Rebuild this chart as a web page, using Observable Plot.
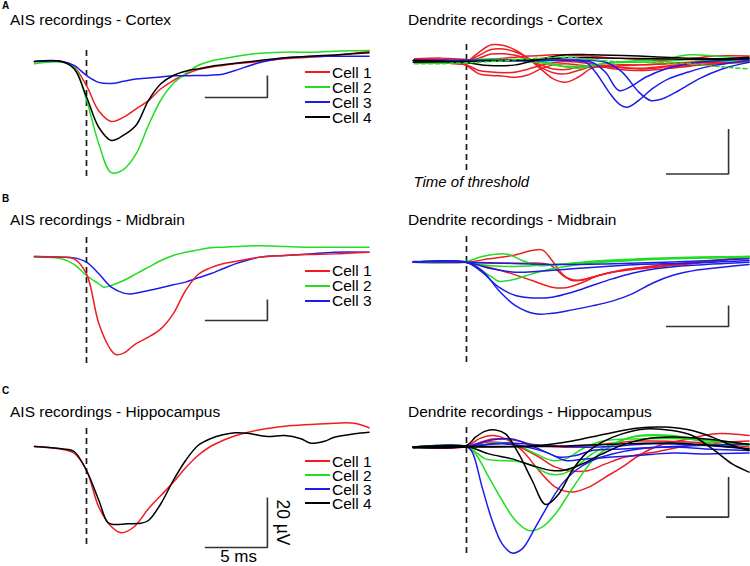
<!DOCTYPE html>
<html><head><meta charset="utf-8">
<script src="https://cdn.jsdelivr.net/npm/d3@7"></script>
<script src="https://cdn.jsdelivr.net/npm/@observablehq/plot@0.6"></script>
<style>
body{margin:0;background:#fff;}
#fig{position:relative;width:750px;height:566px;overflow:hidden;font-family:"Liberation Sans",Arial,sans-serif;color:#000;}
#fig svg{position:absolute;}
.lbl{position:absolute;white-space:nowrap;font-size:15.5px;line-height:15.5px;}
.let{position:absolute;font-weight:bold;font-size:10px;line-height:10px;}
.leg{position:absolute;display:flex;align-items:center;white-space:nowrap;font-size:15.5px;line-height:13px;height:13px;}
.leg span.sw{display:inline-block;width:25px;height:2px;margin-right:2px;}
</style></head>
<body><div id="fig"></div>
<script>
// ---------- shared ----------
const cellNames = ["Cell 1", "Cell 2", "Cell 3", "Cell 4"];
const traceColors = {red: "#ee1d23", green: "#22dd22", blue: "#1c1ce8", black: "#000000"};
const tGrid = [-4.2,-2,-1,0,1,2,3,4,5,6,7,8,9,10,11,12,14,16,18,20,22.8]; // ms

// ---------- A: AIS, cortex (µV on tGrid) ----------
const aAisCell1 = [0,0,-5,-22,-45,-54.5,-50.6,-43,-35.5,-24.8,-17.3,-11.8,-7.3,-5.2,-3.6,-2.1,0,2.4,3.9,5.5,9];
const aAisCell2 = [-2,-0.6,-5,-35,-75,-101,-98,-84,-58,-35,-20,-11,-3.6,0.3,2.4,4.5,7.6,8.5,8.5,9.4,10];
const aAisCell3 = [0,0,-3.6,-12.7,-19,-20,-18,-16,-15,-14,-13,-13,-12.7,-12.4,-11.5,-8.2,-0.9,3.3,4.5,4.8,4.8];
const aAisCell4 = [0,0,-6.7,-32,-60,-71.8,-67,-58,-35.5,-20.3,-12.7,-8.8,-6.7,-4.5,-3,-1.5,0.9,3.3,4.8,6,7.9];

// ---------- A: dendrite, cortex ----------
const aDendRed1 = [0.4,0.4,0,0,4.1,7.4,7.1,4.9,1.2,-3.3,-7.7,-9.2,-7.0,-3.3,-1.8,-1.5,-1.5,-1.0,-0.6,-0.3,0];
const aDendRed2 = [-0.3,-0.3,-0.3,0,2.7,5.3,5.6,4.1,1.5,-2.5,-5.0,-5.5,-4.0,-2.5,-2.1,-2.5,-3.3,-2.5,-1.8,-1.0,-0.3];
const aDendRed3 = [0.9,0.9,0.4,0,1.5,3.3,3.4,2.7,0.9,-1.5,-3.3,-3.6,-2.5,-1.8,-2.5,-3.3,-4.0,-3.3,-2.1,-1.0,0];
const aDendRed4 = [0,-0.3,-0.6,-1.8,-5.5,-6.2,-6.5,-7.0,-5.9,-3.3,-1.5,-1.0,-1.5,-2.1,-2.5,-2.1,-1.5,-1.0,-0.3,0.4,1.2];
const aDendRed5 = [-0.6,-0.6,-1.0,-1.5,-4.0,-4.7,-5.0,-4.7,-3.3,-1.8,-0.6,0,-0.3,-1.0,-1.8,-2.5,-3.0,-2.1,-1.0,-0.3,0.4];
const aDendRed6 = [1.2,1.5,1.2,0.9,0.4,0.9,1.5,1.9,2.4,2.7,3.0,3.0,2.7,2.4,1.9,1.5,0.9,0.4,1.2,2.4,2.4];
const aDendGreen1 = [-0.3,-0.3,0,0.4,0.9,1.2,0.9,0.4,0,-0.6,-1.5,-2.1,-2.1,-1.8,-1.0,-0.3,0.4,1.2,3.0,2.4,0.9];
const aDendGreen2 = [-0.6,-0.6,-0.6,-0.3,0,0.3,0.6,0.9,0.6,0,-1.0,-2.5,-3.0,-2.1,-1.0,-0.6,-0.3,0,0.9,0.4,-0.3];
const aDendGreen3 = [-1.0,-1.0,-0.7,-0.6,-0.3,0,0.3,0.9,1.2,1.5,1.8,1.9,1.5,0.9,0.4,0,-0.3,-0.6,-1.0,-2.1,-3.3];
const aDendBlue1 = [[-4.3,0.4],[0,0.6],[4,0.4],[8.5,0.4],[9.6,-0.3],[10.4,-4.7],[11.5,-13.6],[12.3,-18.8],[13.0,-20.3],[13.9,-17.3],[15.0,-12.1],[16.3,-7.7],[17.9,-4.7],[19.3,-2.5],[20.9,-1.0],[22.8,0.4]];
const aDendBlue2 = [[-4.3,0.4],[0,0.4],[5,0.4],[10.1,-0.3],[11.2,-4.7],[12.3,-12.9],[13.4,-10.7],[14.45,-7],[16.06,-3.3],[17.94,-1],[20.6,0.4],[22.8,1.2]];
const aDendBlue3 = [[-4.3,0.4],[0,0.2],[6,0.4],[11.22,-0.3],[12.56,-4.7],[13.91,-13.6],[14.85,-17.3],[15.79,-16.6],[17.14,-12.9],[18.75,-7.7],[20.63,-3.3],[22.8,-0.3]];
const aDendBlack1 = [[-4.3,0.4],[0,-0.6],[1.8,-1.8],[3.95,-1.5],[5.84,0.9],[7.99,3.0],[10.14,3.0],[13.9,2.4],[17.9,1.5],[20.6,1.2],[22.8,1.9]];
const aDendBlack2 = [[-4.3,-0.3],[0,0],[3.15,0.4],[5.84,0.9],[8.5,1.8],[11.2,1.5],[15.25,1.2],[19.3,0.9],[22.8,1.2]];

// ---------- B: AIS, midbrain ----------
const bAisCell1 = [[-4.2,0],[-2,-0.6],[-1,-2.2],[0,-16.5],[1,-64],[2,-89.5],[2.35,-93.3],[3,-92],[4,-83],[5,-76.8],[6,-68.9],[7,-54.6],[8,-32.4],[9,-17.1],[10,-10.8],[11,-7],[12,-4.8],[14,-0.6],[16,1],[18,1.9],[20,2.5],[22.8,4.1]];
const bAisCell2 = [[-4.2,-0.6],[-2,-2.2],[-1,-7.6],[0,-18.1],[1,-26],[1.4,-29.2],[2,-27.6],[3,-22.9],[4,-16.5],[5,-10.2],[6,-3.8],[7,1],[8,4.1],[9,6.3],[10,8.3],[11,8.9],[12,9.5],[14,10.2],[16,9.5],[18,8.9],[20,8.9],[22.8,8.9]];
const bAisCell3 = [[-4.2,0],[-2,-0.6],[-1,-1.3],[0,-5.4],[1,-16.5],[2,-29.2],[3,-34.9],[3.55,-35.6],[5,-32.4],[6,-29.8],[7,-27],[8,-24.4],[9,-20.3],[10,-16.5],[11,-11.7],[12,-7],[14,-0.6],[16,1],[18,2.5],[20,4.1],[22.8,4.1]];

// ---------- B: dendrite, midbrain ----------
const bDendBlue1 = [[-4.3,0],[0,0],[1.26,-7.9],[2.61,-27],[3.95,-41.3],[5.57,-49.2],[6.91,-48.6],[8.53,-45.4],[10.14,-41.6],[11.76,-37.1],[13.37,-30.2],[15,-20],[16.6,-12.7],[18.75,-7.3],[20.63,-4.8],[22.8,-2.2]];
const bDendBlue2 = [[-4.3,0],[0,-0.3],[1.26,-9.5],[2.61,-23.8],[3.95,-31.7],[5.3,-34],[6.91,-33.3],[8.53,-28.6],[10.14,-22.2],[11.76,-15.9],[13.37,-10.5],[15.25,-6.3],[17.94,-3.2],[22.8,0]];
const bDendBlue3 = [[-4.3,0],[0,-0.3],[2.07,-6.3],[3.95,-9.5],[5.84,-8.6],[8.53,-6.3],[11.22,-4.1],[13.91,-2.2],[17.94,-1],[22.8,1.6]];
const bDendBlue4 = [[-4.3,0.6],[0,0],[3.15,-1],[7.18,-2.2],[11.22,-1.6],[16.6,0.3],[22.8,3.2]];
const bDendRed1 = [[-4.3,0],[0,0],[1.8,3.2],[3.69,6.3],[5.3,11.1],[6.11,11.7],[6.91,1.6],[7.72,-11.1],[8.53,-17.5],[9.6,-15.9],[11.22,-11.1],[13.37,-6.3],[16.06,-2.2],[19.29,1],[22.8,4.8]];
const bDendRed2 = [[-4.3,0],[0,0],[1.8,-4.8],[3.69,-11.1],[5.3,-17.5],[6.91,-23.8],[7.99,-24.4],[9.07,-20.6],[10.68,-12.7],[12.56,-7.3],[15.25,-4.1],[19.29,0],[22.8,5.4]];
const bDendRed3 = [[-4.3,0],[0,0],[2.07,-1],[4.49,-1],[6.65,-2.2],[7.99,-14.3],[9.07,-17.5],[10.14,-14.3],[11.76,-9.5],[13.91,-6.3],[16.6,-3.2],[22.8,4.8]];
const bDendGreen1 = [[-4.3,0],[0,1],[1.26,5.4],[2.61,7.9],[3.42,7.3],[4.49,1.6],[5.84,-3.2],[7.45,-2.2],[10.14,1],[13.91,3.2],[17.94,4.8],[22.8,5.4]];
const bDendGreen2 = [[-4.3,0],[0,0],[1.0,-6.3],[2.07,-14.3],[2.61,-18.1],[3.69,-16.8],[5.3,-11.1],[6.91,-6.3],[9.07,-2.2],[12.56,1],[16.6,3.2],[22.8,4.8]];
const bDendGreen3 = [[-4.3,0],[0,0],[1.8,-3.2],[3.95,-4.1],[7.18,-2.2],[11.22,1],[15.25,3.2],[22.8,5.4]];

// ---------- C: AIS, hippocampus ----------
const cAisCell1 = [[-4.2,0],[-2,-1.1],[-1,-2.7],[0,-9.6],[1,-24.3],[2,-32],[2.8,-34.5],[3.8,-32.3],[5,-24.9],[6,-19.6],[7,-14.3],[8,-8.5],[9,-3.6],[10,0],[11,2.4],[12,4.3],[14,6.7],[16,8.1],[18,8.8],[20,9.3],[21.6,9.3],[22.8,7.5]];
const cAisCell4 = [[-4.2,0],[-2,-0.9],[-1,-2],[0,-9.6],[1,-21.6],[1.7,-30.3],[2.2,-31.2],[3.3,-30.9],[4.4,-30.7],[5,-29.6],[6,-22.9],[7,-13.6],[8,-5.6],[9,0.4],[10,3.1],[11,4.7],[12,5.5],[13,5.3],[14.6,4],[16,4.4],[17.3,3.1],[18.1,1.3],[19.2,2.1],[20,3.7],[21.6,5.1],[22.8,5.7]];

// ---------- C: dendrite, hippocampus ----------
const cDendBlue1 = [[-4.3,-0.3],[0,0],[0.46,-2.8],[1.26,-20.3],[2.07,-37],[2.88,-48.7],[3.69,-53.3],[4.49,-51.2],[5.57,-40.3],[6.65,-28.7],[7.72,-18.7],[8.8,-12],[10.14,-7],[11.76,-3.7],[13.91,-1.2],[16.6,-0.3],[19.29,-1.2],[22.8,-2]];
const cDendBlue2 = [[-4.3,-0.3],[0,0],[1.8,3],[3.69,3.8],[5.84,-1.2],[7.45,-5.3],[8.8,-4.5],[10.14,-2],[12.56,-1.2],[16.6,0],[22.8,1.3]];
const cDendBlue3 = [[-4.3,-0.3],[0,0],[3.15,1.3],[6.38,-2.8],[7.99,-7],[9.6,-6.2],[11.76,-5.3],[13.91,-4.5],[16.6,-3.3],[19.29,-3.7],[22.8,-3.3]];
const cDendBlue4 = [[-4.3,-0.3],[0,0],[3.15,1.7],[6.38,0.5],[9.07,-0.3],[11.76,0],[14.45,1.3],[17.94,1],[22.8,-1.2]];
const cDendGreen1 = [[-4.3,-0.3],[0,0],[0.73,-3.7],[1.8,-15.3],[2.88,-27],[3.95,-37],[5.03,-42],[6.11,-40.3],[7.18,-33.7],[8.26,-23.7],[9.34,-13.7],[10.41,-5.3],[11.76,0.5],[13.37,4.7],[15.25,5.5],[17.94,3.8],[20.63,0.5],[22.8,-1.2]];
const cDendGreen2 = [[-4.3,-0.3],[0,0],[0.73,-2.8],[1.53,-6.2],[2.61,-7],[3.95,-7.3],[5.3,-9.5],[6.65,-13.7],[7.72,-13.7],[8.8,-10.3],[10.14,-3.7],[11.76,1.3],[13.91,5.5],[16.6,5.5],[19.29,3],[22.8,1.3]];
const cDendGreen3 = [[-4.3,-0.3],[0,0],[1.8,1.3],[3.69,1.7],[5.3,-2.8],[6.91,-7],[7.99,-6.2],[9.6,-0.3],[11.22,3],[13.91,3.8],[17.94,3.8],[22.8,0.5]];
const cDendRed1 = [[-4.3,-0.3],[0,0],[1.0,3.8],[2.07,5.5],[3.15,3.8],[4.49,-2],[5.84,-12],[7.18,-20.3],[8.53,-22.8],[9.87,-20.3],[11.22,-15.3],[12.56,-10.3],[13.91,-4.5],[15.52,0.5],[17.94,3.8],[19.83,6.3],[21.44,6.3],[22.8,5.5]];
const cDendRed2 = [[-4.3,-0.3],[0,0],[1.8,2.2],[3.95,0.5],[5.84,-5.3],[7.18,-10.3],[8.53,-12.3],[9.87,-12],[11.22,-8.7],[12.83,-5.3],[15.25,-2.8],[17.94,0.5],[22.8,2.7]];
const cDendRed3 = [[-4.3,-0.3],[0,0],[2.07,3.8],[3.95,3],[5.84,0.5],[8.53,-0.3],[11.22,1.3],[13.91,2.7],[17.94,2.2],[22.8,-0.3]];
const cDendBlack1 = [[-4.3,-0.3],[0,0.5],[0.73,4.7],[1.53,7.7],[2.34,8.3],[3.15,6.3],[4.22,-3.7],[5.3,-17],[6.38,-29],[7.45,-23.7],[8.53,-12],[9.6,-3.7],[10.95,2.2],[12.56,6.3],[14.45,8.8],[16.6,8],[18.21,5.5],[19.29,1.3],[20.37,-3.7],[21.44,-8.7],[22.8,-12.8]];
const cDendBlack2 = [[-4.3,-0.3],[0,0],[1.8,-3.7],[3.69,-6.2],[5.3,-9.5],[6.91,-12],[7.99,-11.7],[9.34,-8.7],[10.95,-3.7],[12.83,1.3],[14.45,3.8],[16.6,4.7],[19.29,3.8],[22.8,1]];
const cDendBlack3 = [[-4.3,-0.3],[0,0],[3.15,0],[5.84,0.5],[8.53,2.7],[11.22,6.3],[13.91,9.3],[16.06,9.7],[18.21,8],[19.83,4.7],[21.44,0.5],[22.8,-2]];
const cDendBlack4 = [[-4.3,-0.7],[0,-0.3],[5.84,0],[11.22,1],[16.6,1.7],[22.8,-1.2]];

// ---------- panel assembly ----------
const onGrid = vals => vals.map((v, i) => [tGrid[i], v]);
const panels = [
  {col:0, top:0, h:185, base:61, f:1.1, dash:[11.8,-104.5], bar:[9.55,14.6,-32.7,-12.7],
   letter:"A", letterTop:0.6, title:"AIS recordings - Cortex", titleY:20, legendY:72, legendStep:15, legend:["red","green","blue","black"],
   traces:[{c:"red",p:onGrid(aAisCell1)},{c:"green",p:onGrid(aAisCell2)},{c:"blue",p:onGrid(aAisCell3)},{c:"black",p:onGrid(aAisCell4)}]},
  {col:1, top:0, h:185, base:61, f:2.25, dash:[8,-48.4], bar:[16.1,21.15,-50,-30],
   title:"Dendrite recordings - Cortex", titleY:20, threshold:true,
   traces:[{c:"red",p:onGrid(aDendRed1)},{c:"red",p:onGrid(aDendRed2)},{c:"red",p:onGrid(aDendRed3)},{c:"red",p:onGrid(aDendRed4)},{c:"red",p:onGrid(aDendRed5)},{c:"red",p:onGrid(aDendRed6)},
           {c:"green",p:onGrid(aDendGreen1)},{c:"green",p:onGrid(aDendGreen2)},{c:"green",p:onGrid(aDendGreen3),dashed:true},
           {c:"blue",p:aDendBlue1},{c:"blue",p:aDendBlue2},{c:"blue",p:aDendBlue3},
           {c:"black",p:aDendBlack1},{c:"black",p:aDendBlack2}]},
  {col:0, top:185, h:180, base:71, f:1.05, dash:[21.9,-101.9], bar:[9.55,14.6,-61,-41],
   letter:"B", letterTop:193.6, title:"AIS recordings - Midbrain", titleY:220, legendY:270.5, legendStep:15, legend:["red","green","blue"],
   traces:[{c:"green",p:bAisCell2},{c:"blue",p:bAisCell3},{c:"red",p:bAisCell1}]},
  {col:1, top:185, h:180, base:76.7, f:1.05, dash:[27.3,-95.5], bar:[16.1,21.15,-61.2,-41.2],
   title:"Dendrite recordings - Midbrain", titleY:220,
   traces:[{c:"red",p:bDendRed1},{c:"red",p:bDendRed2},{c:"red",p:bDendRed3},
           {c:"green",p:bDendGreen1},{c:"green",p:bDendGreen2},{c:"green",p:bDendGreen3},
           {c:"blue",p:bDendBlue1},{c:"blue",p:bDendBlue2},{c:"blue",p:bDendBlue3},{c:"blue",p:bDendBlue4}]},
  {col:0, top:365, h:201, base:81, f:2.5, dash:[8.4,-39.2], bar:[9.55,14.6,-40.4,-20.4], barLabels:true,
   letter:"C", letterTop:385.6, title:"AIS recordings - Hippocampus", titleY:411.7, legendY:461, legendStep:14, legend:["red","green","blue","black"],
   traces:[{c:"red",p:cAisCell1},{c:"black",p:cAisCell4}]},
  {col:1, top:365, h:201, base:81, f:2.0, dash:[10.5,-53.5], bar:[16.1,21.15,-35.3,-15.3],
   title:"Dendrite recordings - Hippocampus", titleY:411.5,
   traces:[{c:"red",p:cDendRed1},{c:"red",p:cDendRed2},{c:"red",p:cDendRed3},
           {c:"green",p:cDendGreen1},{c:"green",p:cDendGreen2},{c:"green",p:cDendGreen3},
           {c:"blue",p:cDendBlue1},{c:"blue",p:cDendBlue2},{c:"blue",p:cDendBlue3},{c:"blue",p:cDendBlue4},
           {c:"black",p:cDendBlack1},{c:"black",p:cDendBlack2},{c:"black",p:cDendBlack3},{c:"black",p:cDendBlack4}]}
];

const fig = document.getElementById("fig");
const FONT = '"Liberation Sans", Arial, sans-serif';

for (const p of panels) {
  const rows = p.traces.flatMap((tr, k) => tr.p.map(([t, v]) => ({id: k, t, v, col: traceColors[tr.c], dashed: !!tr.dashed})));
  const solid = rows.filter(d => !d.dashed), dashedRows = rows.filter(d => d.dashed);
  const xr = p.col === 0 ? [32.7, 371] : [37.7, 376];
  const [b0, b1, bLo, bHi] = p.bar;
  const barPts = [{t: b0, v: bLo}, {t: b1, v: bLo}, {t: b1, v: bHi}];
  const marks = [
    Plot.ruleX([{t: 0, y1: p.dash[1], y2: p.dash[0]}], {x: "t", y1: "y1", y2: "y2", stroke: "#1a1a1a", strokeWidth: 1.7, strokeDasharray: "6,4"}),
    Plot.line(solid, {x: "t", y: "v", z: "id", stroke: d => d.col, strokeWidth: 1.5, curve: "catmull-rom"}),
    Plot.line(dashedRows, {x: "t", y: "v", z: "id", stroke: d => d.col, strokeWidth: 1.5, curve: "catmull-rom", strokeDasharray: "4,3"}),
    Plot.line(barPts, {x: "t", y: "v", stroke: "#333", strokeWidth: 1.6, strokeLinejoin: "miter", strokeLinecap: "butt"})
  ];
  if (p.threshold) {
    marks.push(Plot.text([{t: -4.28, v: -53.8}], {x: "t", y: "v", text: () => "Time of threshold", textAnchor: "start", fontStyle: "italic", fontSize: 15, fontFamily: FONT, fill: "#000"}));
  }
  if (p.barLabels) {
    marks.push(Plot.text([{t: (b0 + b1) / 2 + 0.2, v: -43.9}], {x: "t", y: "v", text: () => "5 ms", fontSize: 17, fontFamily: FONT, fill: "#000"}));
    marks.push(Plot.text([{t: 15.86, v: (bLo + bHi) / 2}], {x: "t", y: "v", text: () => "20 µV", rotate: 90, fontSize: 17.5, fontFamily: FONT, fill: "#000"}));
  }
  const chart = Plot.plot({
    width: 375, height: p.h, margin: 0,
    style: {background: "transparent", fontFamily: FONT, overflow: "visible"},
    x: {domain: [-4.3, 23], range: xr, axis: null},
    y: {domain: [-(p.h - p.base) / p.f, p.base / p.f], range: [p.h, 0], axis: null},
    marks
  });
  chart.style.left = (p.col === 0 ? 0 : 375) + "px";
  chart.style.top = p.top + "px";
  fig.appendChild(chart);

  // title
  const tt = document.createElement("div");
  tt.className = "lbl";
  tt.textContent = p.title;
  tt.style.left = (p.col === 0 ? 10 : 408) + "px";
  tt.style.top = (p.titleY - 7.6) + "px";
  fig.appendChild(tt);
  // panel letter
  if (p.letter) {
    const lt = document.createElement("div");
    lt.className = "let";
    lt.textContent = p.letter;
    lt.style.left = "2px";
    lt.style.top = p.letterTop + "px";
    fig.appendChild(lt);
  }
  // legend
  if (p.legend) {
    p.legend.forEach((c, i) => {
      const row = document.createElement("div");
      row.className = "leg";
      row.style.left = "305px";
      row.style.top = (p.legendY + i * p.legendStep - 6.5) + "px";
      const sw = document.createElement("span");
      sw.className = "sw";
      sw.style.background = traceColors[c];
      const tx = document.createElement("span");
      tx.textContent = cellNames[i];
      row.appendChild(sw); row.appendChild(tx);
      fig.appendChild(row);
    });
  }
}
</script>
</body></html>
